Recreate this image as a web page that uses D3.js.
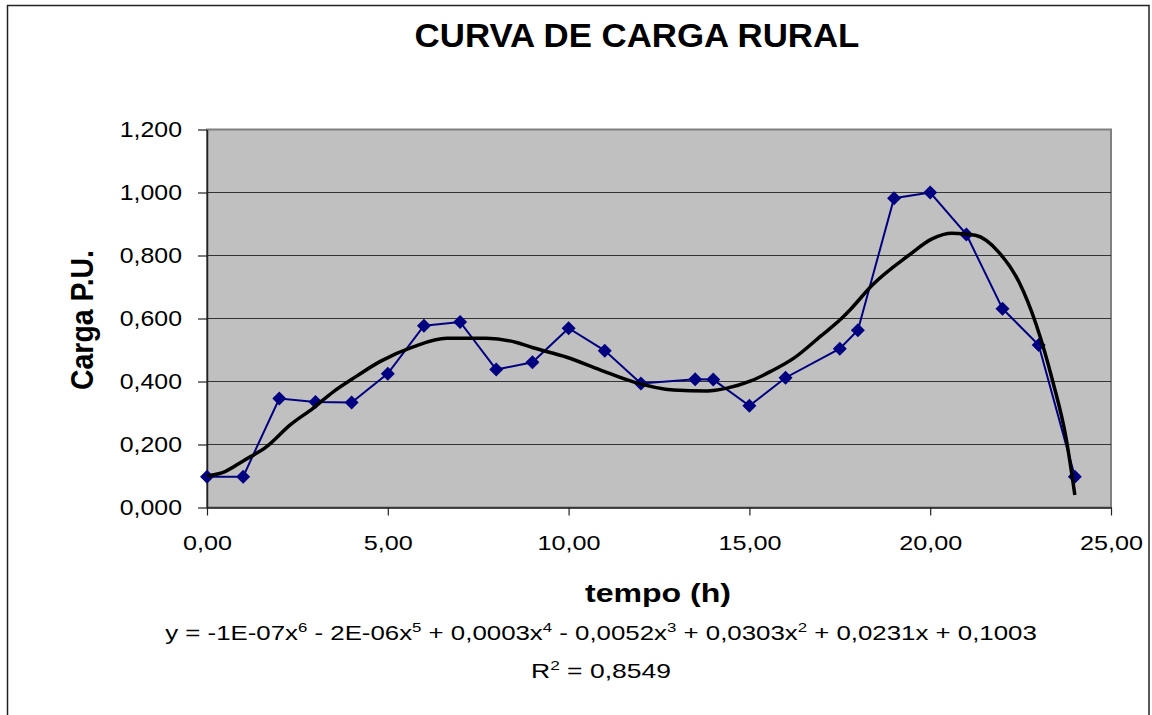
<!DOCTYPE html>
<html>
<head>
<meta charset="utf-8">
<script src="https://cdn.jsdelivr.net/npm/d3@7"></script>
<style>
  body { margin: 0; background: #fff; }
  text { font-family: "Liberation Sans", Arial, sans-serif; fill: #000; }
</style>
</head>
<body>
<div id="chart"></div>
<script>
// measured load points (hours, per-unit load)
const hours = [0, 1, 2, 3, 4, 5, 6, 7, 8, 9, 10, 11, 12, 13.5, 14, 15, 16, 17.5, 18, 19, 20, 21, 22, 23, 24];
const carga = [0.098, 0.098, 0.346, 0.335, 0.333, 0.425, 0.577, 0.589, 0.438, 0.461, 0.569, 0.498, 0.394,
               0.407, 0.406, 0.323, 0.412, 0.504, 0.563, 0.982, 1.000, 0.867, 0.631, 0.516, 0.098];

// polynomial trend line
const trendHours = [0, 0.5, 1, 1.65, 2.3, 2.93, 3.5, 4.14, 4.78, 5.7, 6.63, 7.73, 8.56, 9.02, 9.95, 10.87,
                    11.79, 12.9, 13.83, 14.38, 15.04, 15.59, 16.24, 16.98, 17.5, 17.82, 18.38, 19.4, 20.05,
                    20.6, 21.25, 21.9, 22.46, 22.93, 23.39, 23.76, 24];
const trendCarga = [0.100, 0.114, 0.148, 0.193, 0.262, 0.315, 0.368, 0.417, 0.463, 0.510, 0.537, 0.537,
                    0.524, 0.507, 0.477, 0.437, 0.399, 0.373, 0.370, 0.379, 0.402, 0.432, 0.475, 0.545,
                    0.595, 0.632, 0.704, 0.800, 0.853, 0.871, 0.864, 0.810, 0.715, 0.581, 0.400, 0.219, 0.040];

const xTicks = [0, 5, 10, 15, 20, 25];
const yTicks = [0, 0.2, 0.4, 0.6, 0.8, 1.0, 1.2];

const title = "CURVA DE CARGA RURAL";
const xTitle = "tempo (h)";
const yTitle = "Carga P.U.";
// equation pieces: even = normal text, odd = superscript
const formulaParts = ["y = -1E-07x", "6", " - 2E-06x", "5", " + 0,0003x", "4", " - 0,0052x", "3",
                      " + 0,0303x", "2", " + 0,0231x + 0,1003"];
const r2Parts = ["R", "2", " = 0,8549"];

const W = 1152, H = 715;
const plot = { left: 207, right: 1111, top: 129.5, bottom: 507.5 };

const ptBR = d3.formatLocale({ decimal: ",", thousands: ".", grouping: [3], currency: ["", ""] });
const fmtY = ptBR.format(".3f");
const fmtX = ptBR.format(".2f");

const svg = d3.select("#chart").append("svg")
    .attr("width", W)
    .attr("height", H);

// chart frame
svg.append("rect")
    .attr("x", 7.5).attr("y", 5.5)
    .attr("width", 1141.5).attr("height", 730)
    .attr("fill", "#fff")
    .attr("stroke", "#222")
    .attr("stroke-width", 1.5);

const x = d3.scaleLinear().domain([0, 25]).range([plot.left, plot.right]);
const y = d3.scaleLinear().domain([0, 1.2]).range([plot.bottom, plot.top]);

// plot area
svg.append("rect")
    .attr("x", plot.left).attr("y", plot.top)
    .attr("width", plot.right - plot.left)
    .attr("height", plot.bottom - plot.top)
    .attr("fill", "#c0c0c0")
    .attr("stroke", "#808080")
    .attr("stroke-width", 2);

// gridlines
svg.append("g").attr("class", "grid")
    .selectAll("line")
    .data(yTicks.filter(d => d > 0 && d < 1.2))
    .enter()
    .append("line")
    .attr("x1", plot.left).attr("x2", plot.right)
    .attr("y1", d => y(d)).attr("y2", d => y(d))
    .attr("stroke", "#333")
    .attr("stroke-width", 1);

// stretch a text element horizontally to a given width, anchored at (cx, cy)
function stretchText(sel, cx, cy, width, rotate) {
    const w = sel.node().getBBox().width;
    sel.attr("transform", `translate(${cx},${cy})` + (rotate ? ` rotate(${rotate})` : "") + ` scale(${width / w},1)`);
}

// y axis
const yAxis = svg.append("g")
    .attr("transform", `translate(${plot.left},0)`)
    .call(d3.axisLeft(y).tickValues(yTicks).tickFormat(fmtY).tickSize(9).tickSizeOuter(0));
yAxis.select(".domain").attr("stroke", "#222").attr("stroke-width", 1.5);
yAxis.selectAll(".tick line").attr("stroke", "#222").attr("stroke-width", 1.2);
yAxis.selectAll(".tick text")
    .attr("x", 0)
    .attr("dy", "0.32em")
    .attr("transform", "translate(-25,0) scale(1.13,1)")
    .style("font-size", "22px");

// x axis
const xAxis = svg.append("g")
    .attr("transform", `translate(0,${plot.bottom})`)
    .call(d3.axisBottom(x).tickValues(xTicks).tickFormat(fmtX).tickSize(8).tickSizeOuter(0));
xAxis.select(".domain").attr("stroke", "#222").attr("stroke-width", 1.5);
xAxis.selectAll(".tick line").attr("stroke", "#222").attr("stroke-width", 1.2);
xAxis.selectAll(".tick text")
    .attr("y", 0)
    .attr("dy", 0)
    .attr("transform", "translate(0,42.5) scale(1.2,1)")
    .style("font-size", "21px");

// measured series
const line = d3.line()
    .x((d, i) => x(hours[i]))
    .y(d => y(d));

svg.append("path")
    .datum(carga)
    .attr("d", line)
    .attr("fill", "none")
    .attr("stroke", "#000080")
    .attr("stroke-width", 2);

svg.append("g").attr("class", "markers")
    .selectAll("path")
    .data(carga)
    .enter()
    .append("path")
    .attr("d", "M0,-7L7,0L0,7L-7,0Z")
    .attr("transform", (d, i) => `translate(${x(hours[i])},${y(d)})`)
    .attr("fill", "#000080");

// trend line
const trendLine = d3.line()
    .x((d, i) => x(trendHours[i]))
    .y(d => y(d))
    .curve(d3.curveMonotoneX);

svg.append("path")
    .datum(trendCarga)
    .attr("d", trendLine)
    .attr("fill", "none")
    .attr("stroke", "#000")
    .attr("stroke-width", 3.5)
    .attr("stroke-linejoin", "round");

// titles
const t = svg.append("text")
    .attr("text-anchor", "middle")
    .style("font-size", "33px")
    .style("font-weight", "bold")
    .text(title);
stretchText(t, 637, 46.5, 445);

const xt = svg.append("text")
    .attr("text-anchor", "middle")
    .style("font-size", "26px")
    .style("font-weight", "bold")
    .text(xTitle);
stretchText(xt, 658, 601.5, 146);

const yt = svg.append("text")
    .attr("text-anchor", "middle")
    .style("font-size", "31px")
    .style("font-weight", "bold")
    .text(yTitle);
stretchText(yt, 93, 320, 140, -90);

// equation text with superscripts
function richText(parts, size) {
    const txt = svg.append("text")
        .attr("text-anchor", "middle")
        .style("font-size", size + "px");
    parts.forEach((p, i) => {
        const sup = i % 2 === 1;
        const prevSup = i > 0 && (i - 1) % 2 === 1;
        txt.append("tspan")
            .attr("dy", sup ? -8 : (prevSup ? 8 : 0))
            .style("font-size", sup ? "13px" : null)
            .text(p);
    });
    return txt;
}

stretchText(richText(formulaParts, 20), 601, 640, 872);
stretchText(richText(r2Parts, 20), 601, 678, 140);
</script>
</body>
</html>
